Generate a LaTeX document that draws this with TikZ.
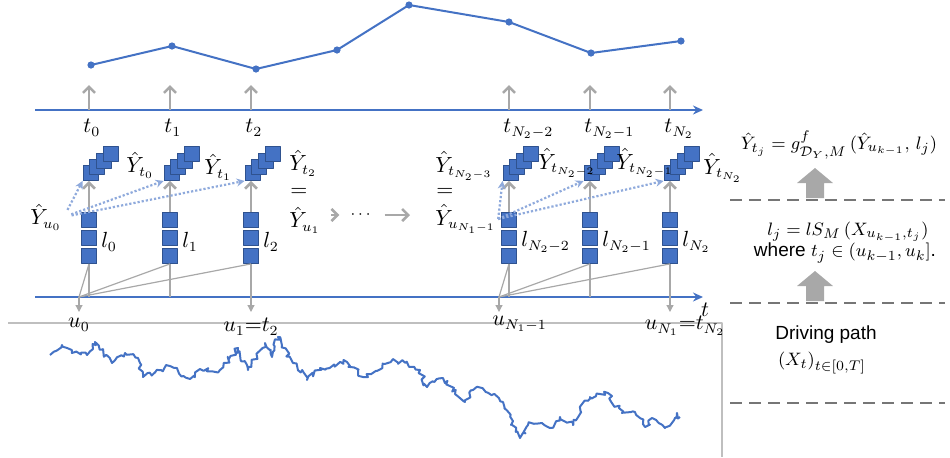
\documentclass[tikz,border=0pt]{standalone}
\usepackage{amsmath,amssymb}
\usepackage{fontspec}
\newfontfamily\arialfont{Liberation Sans}
\usepackage{tikz}
\usetikzlibrary{arrows.meta,calc,positioning,decorations.pathmorphing}
\definecolor{pathblue}{RGB}{68,114,196}
\definecolor{cellblue}{RGB}{68,114,196}
\definecolor{cellline}{RGB}{47,82,143}
\definecolor{dotblue}{RGB}{143,170,220}
\definecolor{wiregray}{RGB}{168,168,168}
\definecolor{sepgray}{RGB}{118,118,118}
\definecolor{framegray}{RGB}{191,191,191}

\begin{document}
\begin{tikzpicture}[x=.5pt,y=-.5pt,line join=round,
 font=\fontsize{10.5}{12}\selectfont,every node/.style={inner sep=1pt},
 cell/.style={draw=cellline,fill=cellblue,line width=.4pt,minimum size=7.5pt,inner sep=0pt},
 timeaxis/.style={pathblue,line width=1.2pt,-{Stealth[length=5pt,width=4.5pt]}},
 lift/.style={wiregray,line width=1.3pt,-{Straight Barb[length=3pt,width=6pt]}},
 wire/.style={wiregray,line width=.6pt},
 drop/.style={wiregray,line width=.6pt,-{Triangle[length=3.5pt,width=3.5pt]}},
 feed/.style={dotblue,line width=1.1pt,densely dotted,-{Stealth[length=4pt,width=4pt]}},
 lane/.style={wiregray,line width=1.3pt,-{Straight Barb[length=3pt,width=6pt]}},
 sep/.style={sepgray,line width=1.4pt,dash pattern=on 6pt off 3.5pt},
 bigarrow/.style={fill=wiregray,draw=none},
 legend/.style={font=\fontsize{9.5}{11}\selectfont}]
\useasboundingbox (0,0) rectangle (950,457);

% predicted series on top
\foreach \i/\x/\y in {1/91/65,2/172/46,3/256/69,4/337/50,5/409/5,6/509/22,7/591/53,8/681/41}
  \coordinate (p\i) at (\x,\y);
\draw[pathblue,line width=1pt] (p1)--(p2)--(p3)--(p4)--(p5)--(p6)--(p7)--(p8);
\foreach \i in {1,...,8}{\fill[pathblue] (p\i) circle (1.8pt);}

% time axes
\coordinate (top0) at (35,110);
\coordinate (top1) at (703,110);
\coordinate (bot0) at (35,297);
\coordinate (bot1) at (703,297);
\draw[timeaxis] (top0)--(top1);
\draw[timeaxis] (bot0)--(bot1);
\node (tlab) at (705,310) {$t$};

% columns: signature block, stacked prediction, tick
\foreach \n/\x/\sub in {0/89/0,1/170/1,2/251/2,3/509/{N_2-2},4/590/{N_2-1},5/670/{N_2}}{
  \node[cell] (l\n-1) at (\x,220) {};
  \node[cell] (l\n-2) at (\x,238) {};
  \node[cell] (l\n-3) at (\x,256) {};
  \foreach \k in {0,...,3}
    \node[cell] (y\n-\k) at ({\x+1.5+6.7*\k},{173-6.3*\k}) {};
  \draw[lift] (l\n-1.north)--(l\n-1.north |- y\n-0.south);
  \coordinate (tk\n) at (\x,110);
  \coordinate (tu\n) at (\x,85);
  \draw[lift] (tk\n)--(tu\n);
  \node[anchor=north west] (t\n) at ({\x-8},117) {$t_{\sub}$};
  \node[anchor=west] (ll\n) at ({\x+10},242) {$l_{\sub}$};
}

% prediction labels
\node[anchor=west] (yu0) at (28,217) {$\hat{Y}_{u_0}$};
\node[anchor=west] (yt0) at (124,165) {$\hat{Y}_{t_0}$};
\node[anchor=west] (yt1) at (202,167) {$\hat{Y}_{t_1}$};
\node[anchor=west] (yt2) at (287,163) {$\hat{Y}_{t_2}$};
\node[anchor=west] (is1) at (288,192) {$=$};
\node[anchor=west] (yu1) at (287,220) {$\hat{Y}_{u_1}$};
\node[font=\fontsize{8}{9}\selectfont] (dots) at (362,215) {$\cdots$};
\node[anchor=west] (ytN) at (433,166) {$\hat{Y}_{t_{N_2-3}}$};
\node[anchor=west] (isN) at (434,192) {$=$};
\node[anchor=west] (yuN) at (433,219) {$\hat{Y}_{u_{N_1-1}}$};
\node[anchor=west] (yt3) at (536,163) {$\hat{Y}_{t_{N_2-2}}$};
\node[anchor=west] (yt4) at (614,163) {$\hat{Y}_{t_{N_2-1}}$};
\node[anchor=west] (yt5) at (701,168) {$\hat{Y}_{t_{N_2}}$};

\draw[lane,shorten <=4pt,shorten >=4.5pt] (yu1.east |- dots)--(dots);
\draw[lane,shorten <=4.5pt,shorten >=11.5pt] (dots)--(dots -| yuN.west);

\foreach \n in {0,1,2}{\draw[feed,shorten <=4pt] (yu0.east)--(y\n-0.south west);}
\foreach \n in {3,4,5}{\draw[feed] (yuN.east)--(y\n-0.south west);}

% wiring down to the u grid
\coordinate (j0) at (79,297);
\coordinate (j1) at (499,297);
\coordinate (u0) at (79,312);
\coordinate (u1) at (251,312);
\coordinate (uA) at (499,312);
\coordinate (uB) at (670,312);
\foreach \n in {0,1,2}{\draw[wire] (j0)--(l\n-3.south);}
\foreach \n in {3,4,5}{\draw[wire] (j1)--(l\n-3.south);}
\foreach \n in {0,1,3,4}{\draw[wire] (l\n-3.south)--(l\n-3.south |- j0);}
\draw[drop] (j0)--(u0);
\draw[drop] (j1)--(uA);
\draw[drop] (l2-3.south)--(u1);
\draw[drop] (l5-3.south)--(uB);

% driving path
\draw[framegray,line width=.6pt] (8,323)--(722,323)--(722,457);
\node[below=2pt] (lu0) at (u0) {$u_0$};
\node[below=2pt] (lu1) at (u1) {$u_1{=}t_2$};
\node[anchor=north west] (luA) at (490,314) {$u_{N_1-1}$};
\node[anchor=north] (luB) at (685,314) {$u_{N_1}{=}t_{N_2}$};
\pgfmathsetseed{11}
\draw[pathblue,line width=1pt,decorate,decoration={random steps,segment length=1.6pt,amplitude=1.4pt}]
 (50,355)--(62,345)--(72,353)--(87,355)--(95,342)--(112,363)--(125,353)--(138,358)--(143,377)
 --(170,366)--(190,379)--(200,369)--(220,370)--(238,348)--(248,370)--(265,343)--(272,357)
 --(278,337)--(293,363)--(307,380)--(320,368)--(347,362)--(363,377)--(377,371)--(393,359)
 --(420,370)--(427,387)--(443,378)--(465,402)--(473,390)--(482,388)--(503,402)--(520,438)
 --(528,425)--(542,423)--(550,428)--(560,417)--(573,425)--(580,408)--(590,397)--(608,393)
 --(622,413)--(635,412)--(645,427)--(652,418)--(665,428)--(677,413)--(680,417);

% legend on the right
\foreach \yy in {200,303,403}{\draw[sep] (730,\yy)--(945,\yy);}
\foreach \b in {198,301}{
  \fill[bigarrow] (806,\b)--(806,{\b-15})--(797,{\b-15})--(815,{\b-30})--(833,{\b-15})
    --(824,{\b-15})--(824,\b)--cycle;}
\node[legend] (gmap) at (839,145) {$\hat{Y}_{t_j} = g^{f}_{\mathcal{D}_Y,M}\,(\hat{Y}_{u_{k-1}},\, l_j)$};
\node[legend] (lsig) at (848,232) {$l_j = lS_M\,(X_{u_{k-1},t_j})$};
\node[legend] (where) at (845,253) {\arialfont where $t_j\in(u_{k-1},u_k]$.};
\node[legend] (drive) at (826,335) {\arialfont Driving path};
\node[legend] (xpath) at (822,363) {$(X_t)_{t\in[0,T]}$};
\end{tikzpicture}
\end{document}
